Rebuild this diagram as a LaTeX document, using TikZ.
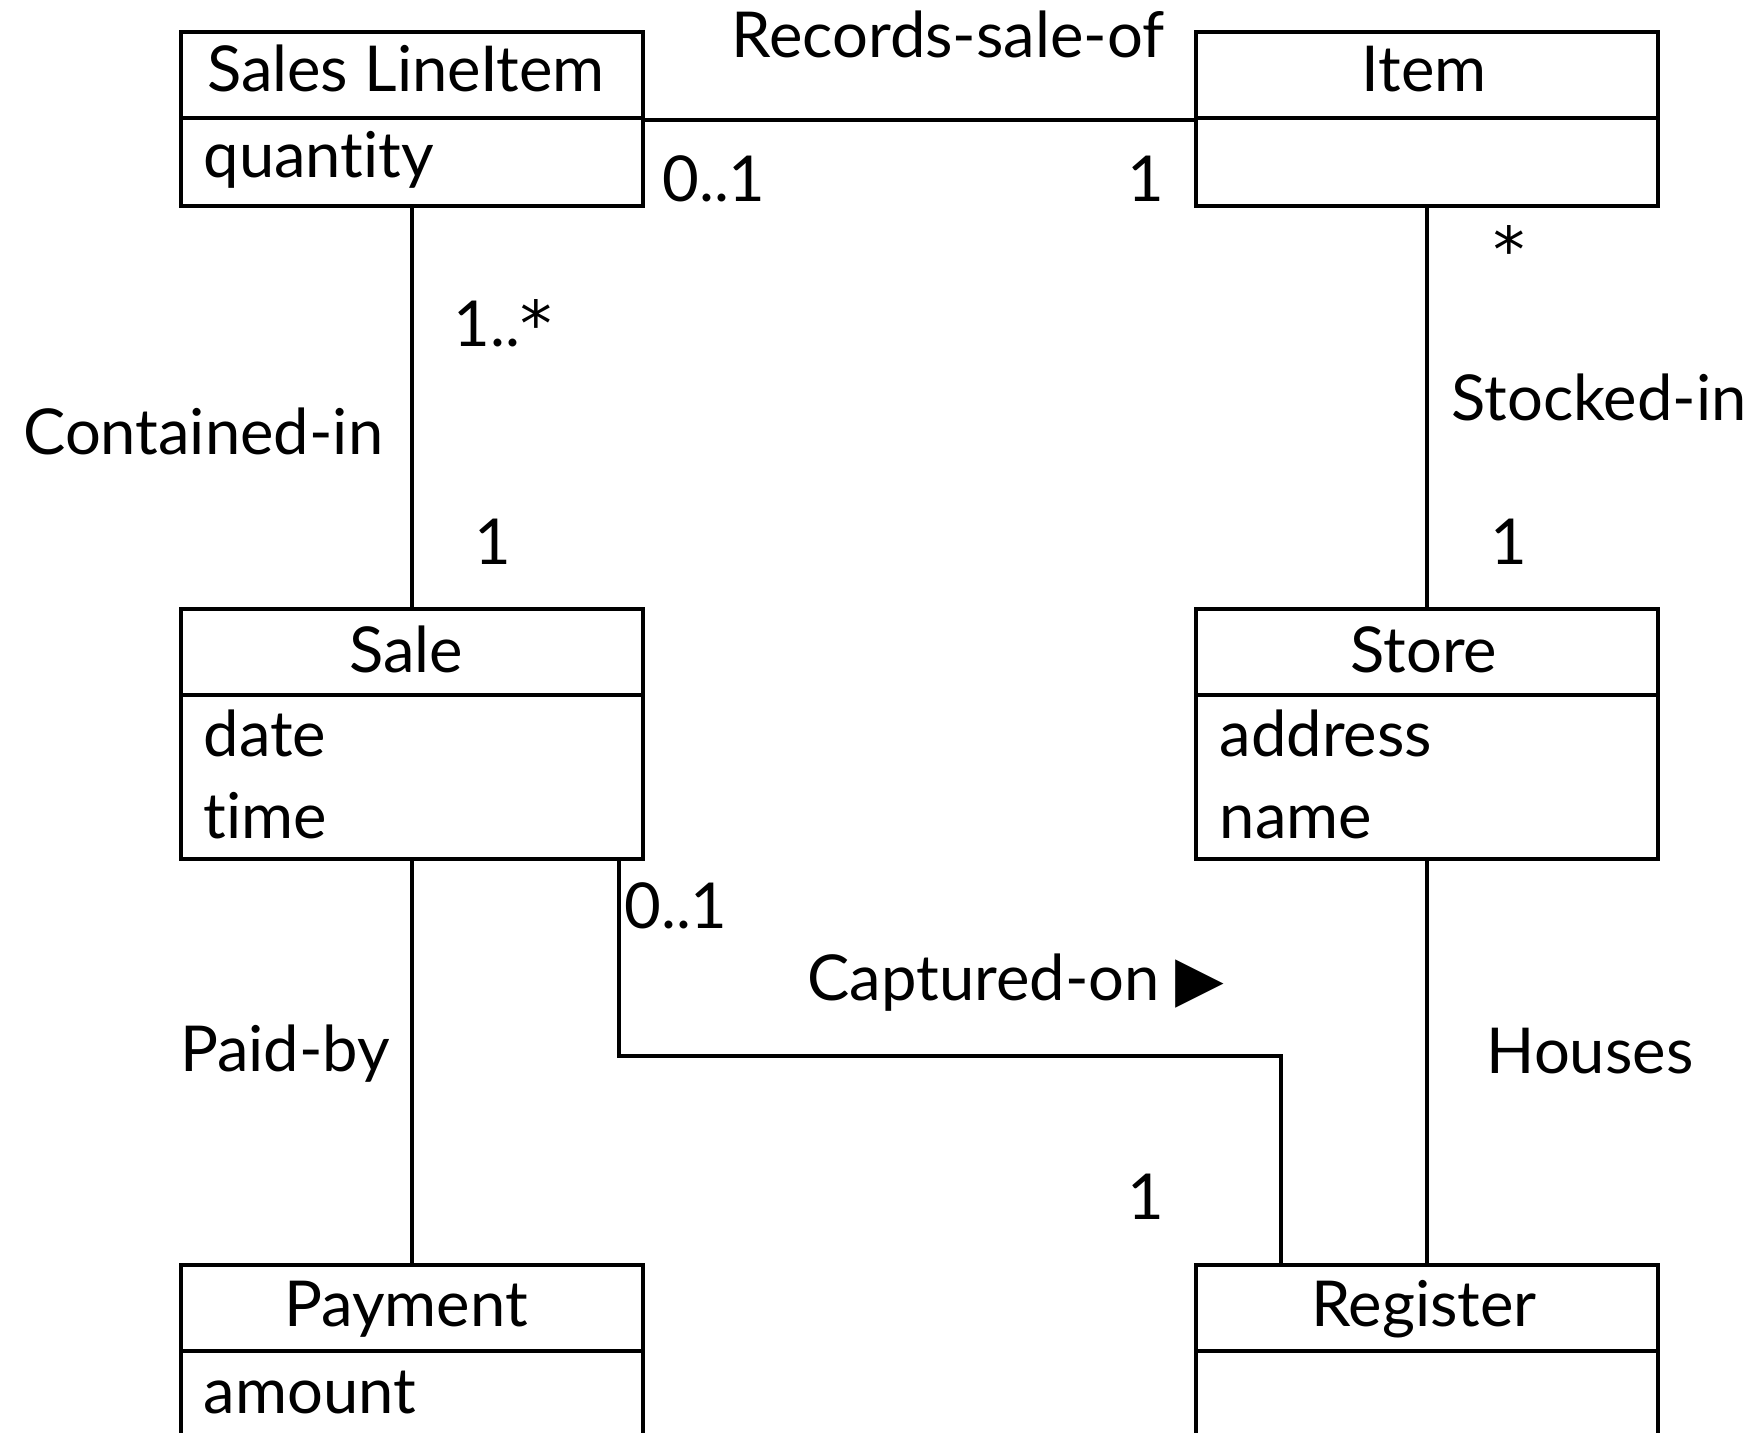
\documentclass[tikz,border=0pt]{standalone}
\usepackage{fontspec}
\setmainfont{Lato}[Ligatures=NoCommon]
\newfontfamily\symfont{DejaVu Sans}

\begin{document}
\begin{tikzpicture}[
    x=0.01cm, y=-0.01cm,
    every node/.style={font=\fontsize{18}{21}\selectfont, inner sep=0pt},
    head/.style={rectangle, draw, line width=1.1pt, minimum width=4.62cm, minimum height=0.86cm, anchor=north west},
    body/.style={rectangle, draw, line width=1.1pt, minimum width=4.62cm, anchor=north west},
    title/.style={anchor=base},
    attr/.style={anchor=base west},
    mult/.style={anchor=base},
    assoc/.style={line width=1.1pt}
]
\useasboundingbox (0,0) rectangle (1753,1433);

% Top row
\node[head] (sli_head) at (179,30) {};
\node[body, minimum height=0.88cm] (sli_body) at (179,116) {};
\node[title] at (406,91) {Sales LineItem};
\node[attr] at (203,177) {quantity};

\node[head] (item_head) at (1194,30) {};
\node[body, minimum height=0.88cm] (item_body) at (1194,116) {};
\node[title] at (1424,91) {Item};

% Middle row
\node[head] (sale_head) at (179,607) {};
\node[body, minimum height=1.64cm] (sale_body) at (179,693) {};
\node[title] at (406,672) {Sale};
\node[attr] at (203,756) {date};
\node[attr] at (203,838) {time};

\node[head] (store_head) at (1194,607) {};
\node[body, minimum height=1.64cm] (store_body) at (1194,693) {};
\node[title] at (1424,672) {Store};
\node[attr] at (1219,756) {address};
\node[attr] at (1219,838) {name};

% Bottom row
\node[head] (pay_head) at (179,1263) {};
\node[body, minimum height=1.5cm] (pay_body) at (179,1349) {};
\node[title] at (406,1326) {Payment};
\node[attr] at (203,1413) {amount};

\node[head] (reg_head) at (1194,1263) {};
\node[body, minimum height=1.5cm] (reg_body) at (1194,1349) {};
\node[title] at (1424,1326) {Register};

% Associations
\draw[assoc] (sli_head.south east) -- (item_head.south west);
\node[mult] at (948,57) {Records-sale-of};
\node[mult] at (714,201) {0..1};
\node[mult] at (1146,201) {1};

\draw[assoc] (sli_body.south) -- (sale_head.north);
\node[mult] at (503,346) {1..{\symfont *}};
\node[anchor=base east] at (384,454) {Contained-in};
\node[mult] at (493,564) {1};

\draw[assoc] (item_body.south) -- (store_head.north);
\node[mult] at (1509,272) {\symfont *};
\node[anchor=base west] at (1451,420) {Stocked-in};
\node[mult] at (1509,564) {1};

\draw[assoc] (sale_body.south) -- (pay_head.north);
\node[mult] at (285,1071) {Paid-by};

\draw[assoc] (store_body.south) -- (reg_head.north);
\node[mult] at (1590,1073) {Houses};

\coordinate (cap_bend) at (0,1056);
\coordinate (cap_from) at ([xshift=-0.26cm]sale_body.south east);
\coordinate (cap_to) at ([xshift=0.87cm]reg_head.north west);
\draw[assoc] (cap_from) -- (cap_from |- cap_bend) -- (cap_to |- cap_bend) -- (cap_to);
\node[mult] at (676,928) {0..1};
\node[mult] at (1016,1000) {Captured-on {\symfont ▶}};
\node[mult] at (1146,1219) {1};

\end{tikzpicture}
\end{document}
